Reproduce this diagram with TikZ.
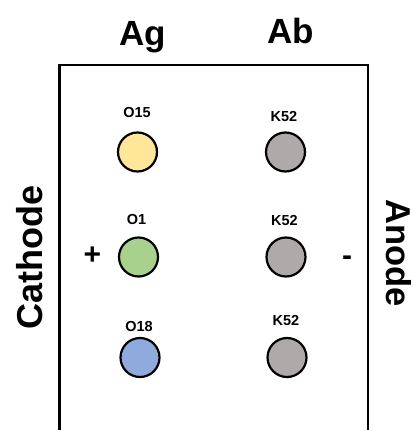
\documentclass[tikz,border=0pt]{standalone}
\usepackage{fontspec}
\setmainfont{Liberation Sans}
\begin{document}
\begin{tikzpicture}[x=1pt,y=-1pt,
  big/.style={font=\fontsize{35}{40}\selectfont\bfseries, inner sep=0pt, anchor=base},
  lab/.style={font=\fontsize{14.5}{17}\selectfont\bfseries, inner sep=0pt, anchor=base},
  sign/.style={font=\fontsize{30}{34}\selectfont\bfseries, inner sep=0pt},
  dot/.style={circle, draw=black, line width=2.2pt, minimum size=39pt, inner sep=0pt}]
\useasboundingbox (0,0) rectangle (413,430);
\coordinate (bl) at (59.5,440);
\coordinate (tl) at (59.5,65);
\coordinate (tr) at (368,65);
\coordinate (br) at (368,440);
\draw[line width=2.4pt] (bl) -- (tl) -- (tr) -- (br);
\node[big] (ag) at (142.5,45.5) {Ag};
\node[big] (ab) at (291,43.3) {Ab};
\node[big, rotate=90, font=\fontsize{36}{40}\selectfont\bfseries] (cath) at (42,257.5) {Cathode};
\node[big, rotate=-90, font=\fontsize{34.5}{40}\selectfont\bfseries] (an) at (386,253) {Anode};
\node[sign] (plus) at (92.5,255.5) {+};
\node[sign] (minus) at (347,261) {-};
\node[lab] (l1) at (137,118) {O15};
\node[lab] (l2) at (284,122) {K52};
\node[lab] (l3) at (136.5,224) {O1};
\node[lab] (l4) at (284.5,225) {K52};
\node[lab] (l5) at (139,331) {O18};
\node[lab] (l6) at (286,325) {K52};
\node[dot, fill={rgb,255:red,255;green,230;blue,153}] (c1) at (137.5,152) {};
\node[dot, fill={rgb,255:red,174;green,170;blue,170}] (c2) at (285.5,152) {};
\node[dot, fill={rgb,255:red,169;green,209;blue,142}] (c3) at (138.5,257) {};
\node[dot, fill={rgb,255:red,174;green,170;blue,170}] (c4) at (286,257) {};
\node[dot, fill={rgb,255:red,143;green,170;blue,220}] (c5) at (140,357.5) {};
\node[dot, fill={rgb,255:red,174;green,170;blue,170}] (c6) at (287,357.5) {};
\end{tikzpicture}
\end{document}
